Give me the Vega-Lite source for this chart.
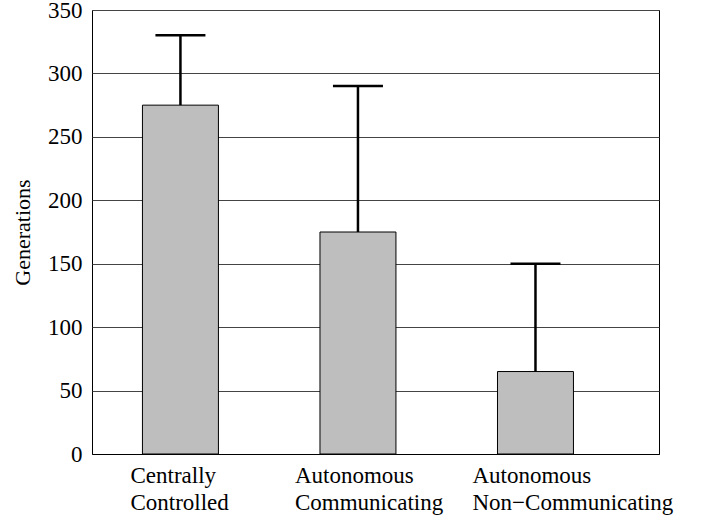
{
  "$schema": "https://vega.github.io/schema/vega-lite/v6.json",
  "autosize": {"type": "none"},
  "padding": {"left": 92, "top": 10, "right": 41, "bottom": 69},
  "width": 567,
  "height": 444,
  "background": "white",
  "config": {
    "view": {"stroke": "#000", "strokeWidth": 1},
    "font": "Liberation Serif"
  },
  "data": {
    "values": [
      {"category": "Centrally Controlled", "generations": 275, "upper": 330},
      {"category": "Autonomous Communicating", "generations": 175, "upper": 290},
      {"category": "Autonomous Non−Communicating", "generations": 65, "upper": 150}
    ]
  },
  "encoding": {
    "x": {
      "field": "category",
      "type": "nominal",
      "sort": null,
      "scale": {"paddingInner": 0.572, "paddingOuter": 0.383, "align": 0.371},
      "axis": {
        "title": null,
        "labelAngle": 0,
        "labelAlign": "left",
        "labelBaseline": "top",
        "labelOffset": {"condition": {"test": "datum.value == 'Centrally Controlled'", "value": -50}, "value": -63},
        "labelExpr": "split(datum.label, ' ')",
        "labelFont": "Liberation Serif",
        "labelFontSize": 23,
        "labelLineHeight": 27,
        "labelColor": "#000",
        "labelPadding": 10,
        "ticks": false,
        "domainColor": "#000",
        "labelLimit": 0
      }
    }
  },
  "layer": [
    {
      "mark": {"type": "bar", "fill": "#bebebe", "stroke": "#000", "strokeWidth": 1},
      "encoding": {
        "y": {
          "field": "generations",
          "type": "quantitative",
          "scale": {"domain": [0, 350], "nice": false},
          "axis": {
            "title": "Generations",
            "titleFont": "Liberation Serif",
            "titleFontSize": 22,
            "titleFontWeight": "normal",
            "titleColor": "#000",
            "titleAngle": -90,
            "titleX": -70,
            "titleY": 222,
            "titleAlign": "center",
            "titleBaseline": "middle",
            "values": [0, 50, 100, 150, 200, 250, 300, 350],
            "grid": true,
            "gridColor": "#444",
            "gridOpacity": 1,
            "gridWidth": 1,
            "ticks": false,
            "domain": false,
            "labelFont": "Liberation Serif",
            "labelFontSize": 23,
            "labelColor": "#000",
            "labelPadding": 10
          }
        }
      }
    },
    {
      "mark": {"type": "rule", "color": "#000", "strokeWidth": 2.5},
      "encoding": {
        "y": {"field": "generations", "type": "quantitative"},
        "y2": {"field": "upper"}
      }
    },
    {
      "mark": {"type": "tick", "orient": "horizontal", "color": "#000", "size": 50, "thickness": 2.5, "opacity": 1},
      "encoding": {
        "y": {"field": "upper", "type": "quantitative"}
      }
    }
  ]
}
